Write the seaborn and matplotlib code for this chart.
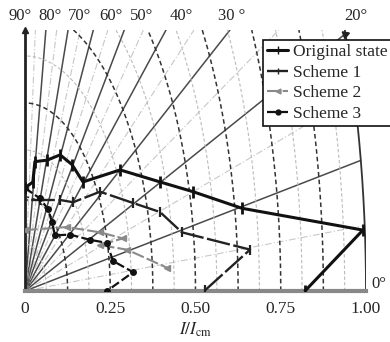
import numpy as np
import pandas as pd
import matplotlib
matplotlib.use("Agg")
import matplotlib.pyplot as plt
import seaborn as sns
from matplotlib.lines import Line2D

sns.set_theme(style="white")
plt.rcParams['font.family'] = ['Liberation Serif', 'DejaVu Serif']
plt.rcParams['mathtext.fontset'] = 'stix'

# ---------------- data (I/I_cm, normalised) ----------------
orig_x = [0.821, 0.991, 0.636, 0.493, 0.396, 0.279, 0.170, 0.138, 0.103, 0.065, 0.029, 0.023, 0.000]
orig_y = [0.000, 0.081, 0.110, 0.132, 0.145, 0.161, 0.145, 0.168, 0.181, 0.174, 0.172, 0.145, 0.137]

s1_x = [0.528, 0.660, 0.460, 0.396, 0.317, 0.220, 0.141, 0.103, 0.044, 0.000]
s1_y = [0.001, 0.055, 0.078, 0.105, 0.117, 0.132, 0.118, 0.121, 0.121, 0.121]

s2_x = [0.000, 0.123, 0.220, 0.287, 0.220, 0.299, 0.416]
s2_y = [0.081, 0.085, 0.078, 0.070, 0.061, 0.055, 0.031]

s3_x = [0.000, 0.044, 0.067, 0.079, 0.088, 0.132, 0.191, 0.240, 0.258, 0.317, 0.240]
s3_y = [0.137, 0.123, 0.109, 0.092, 0.074, 0.075, 0.068, 0.064, 0.040, 0.025, 0.000]

series_names = ["Original state", "Scheme 1", "Scheme 2", "Scheme 3"]
angle_labels = ["90°", "80°", "70°", "60°", "50°", "40°", "30 °", "20°"]
xtick_vals = [0, 0.25, 0.50, 0.75, 1.00]
xtick_labels = ["0", "0.25", "0.50", "0.75", "1.00"]

YTOP = 0.347

fig = plt.figure(figsize=(3.9, 3.42), dpi=100)
ax = fig.add_axes([25/390, 51/342, 341/390, 261/342])
ax.set_xlim(0, 1.0)
ax.set_ylim(0, YTOP)

# ---------------- background grid: radial lines & circles ----------------
for deg in range(5, 90, 5):
    th = np.radians(deg)
    r_end = min(1.0, YTOP / np.sin(th))
    if deg % 10 == 0:
        ax.plot([0, r_end*np.cos(th)], [0, r_end*np.sin(th)], color="#4a4a4a", lw=1.1, zorder=1)
    else:
        ax.plot([0, r_end*np.cos(th)], [0, r_end*np.sin(th)], color="#c8c8c8", lw=0.8,
                ls=(0, (6, 2, 1, 2)), zorder=1)
for r in np.arange(0.0625, 1.0, 0.0625):
    phi_max = np.pi/2 if r <= YTOP else np.arcsin(YTOP/r)
    phi = np.linspace(0, phi_max, 200)
    major = abs((r/0.125) - round(r/0.125)) < 1e-6
    ax.plot(r*np.cos(phi), r*np.sin(phi),
            color="#333333" if major else "#bbbbbb",
            lw=1.1 if major else 0.8, ls=(0, (3, 2)), zorder=1)
phi = np.linspace(0, np.arcsin(YTOP), 200)
ax.plot(np.cos(phi), np.sin(phi), color="#333333", lw=1.3, zorder=2)
# arrow at the end of 20 deg line
ax.plot([np.cos(np.radians(20))], [np.sin(np.radians(20))], marker=(3, 0, -70), color="#222222",
        ms=6, clip_on=False, zorder=3)

# ---------------- series ----------------
df = pd.concat([
    pd.DataFrame({"x": orig_x, "y": orig_y, "s": series_names[0], "o": range(len(orig_x))}),
    pd.DataFrame({"x": s1_x, "y": s1_y, "s": series_names[1], "o": range(len(s1_x))}),
    pd.DataFrame({"x": s2_x, "y": s2_y, "s": series_names[2], "o": range(len(s2_x))}),
    pd.DataFrame({"x": s3_x, "y": s3_y, "s": series_names[3], "o": range(len(s3_x))}),
])
styles = {
    "Original state": dict(color="#111111", lw=2.2, ls="-", marker="|", ms=8, mew=2.0),
    "Scheme 1": dict(color="#222222", lw=1.7, ls=(0, (10, 1.5)), marker="|", ms=7, mew=1.6),
    "Scheme 2": dict(color="#8a8a8a", lw=1.5, ls=(0, (6, 1.5)), marker="<", ms=5, mew=1.0),
    "Scheme 3": dict(color="#111111", lw=1.6, ls=(0, (4, 1.5)), marker="o", ms=5, mew=0),
}
for name in series_names:
    st = styles[name]
    sub = df[df["s"] == name]
    sns.lineplot(data=sub, x="x", y="y", sort=False, estimator=None, ax=ax,
                 color=st["color"], lw=st["lw"], linestyle=st["ls"], marker=st["marker"],
                 markersize=st["ms"], markeredgewidth=st["mew"], markeredgecolor=st["color"],
                 zorder=4, legend=False)

# ---------------- axes styling ----------------
for sp in ["top", "right"]:
    ax.spines[sp].set_visible(False)
ax.spines["left"].set_color("#222222")
ax.spines["left"].set_linewidth(2.0)
ax.spines["bottom"].set_color("#888888")
ax.spines["bottom"].set_linewidth(3.0)
ax.plot([0], [1.0], marker="^", color="#222222", ms=5, transform=ax.transAxes, clip_on=False)
ax.set_yticks([])
ax.set_xticks(xtick_vals)
ax.set_xticklabels(xtick_labels, fontsize=12.5)
ax.tick_params(axis="x", length=0, pad=7)
ax.set_xlabel(r"$I/I_{\rm cm}$", fontsize=12.5, labelpad=3)
ax.set_ylabel("")

# angle labels along top
label_px = [20, 50, 80, 111, 142, 181, 232, 356]
for lab, px in zip(angle_labels, label_px):
    fig.text(px/390, 1 - 16/342, lab, ha="center", va="center", fontsize=12)
fig.text(379/390, 1 - 284/342, "0°", ha="center", va="center", fontsize=12)

# legend
handles = [Line2D([], [], color=styles[n]["color"], lw=styles[n]["lw"], ls=styles[n]["ls"],
                  marker=styles[n]["marker"], ms=styles[n]["ms"]*0.7, mew=1.0) for n in series_names]
leg = fig.legend(handles, series_names, loc="upper left", bbox_to_anchor=(263/390, 1 - 40/342),
                 fontsize=12.5, frameon=True, fancybox=False, edgecolor="#111111",
                 handlelength=1.2, handletextpad=0.3, labelspacing=0.25, borderpad=0.25,
                 borderaxespad=0, framealpha=1)
leg.get_frame().set_linewidth(1.2)

fig.savefig("out.png", dpi=100)
